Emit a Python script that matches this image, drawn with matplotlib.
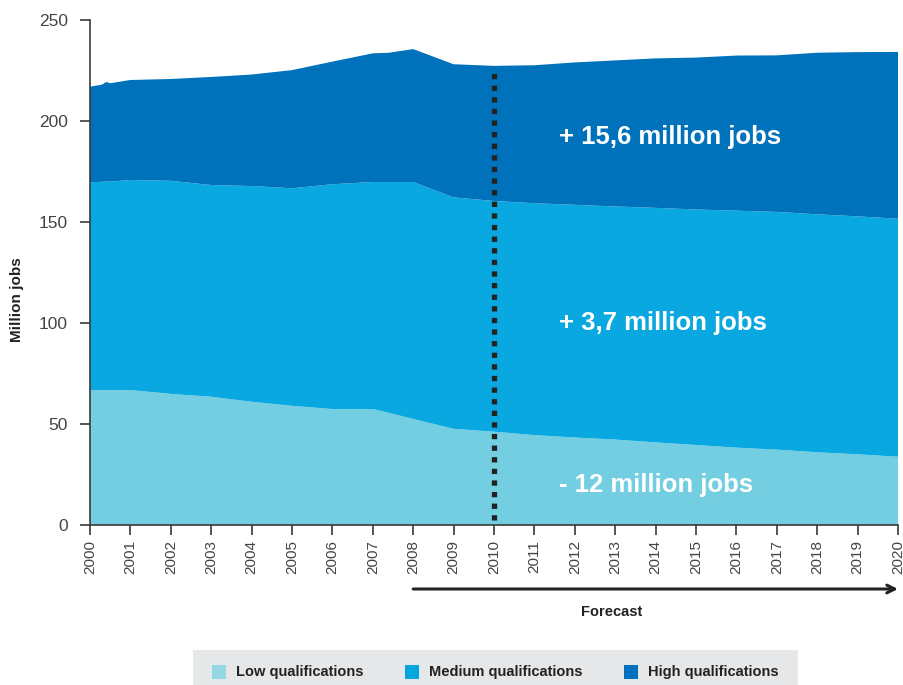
import matplotlib
matplotlib.use("Agg")
import matplotlib.pyplot as plt
import matplotlib.transforms as mtransforms
from matplotlib.patches import Rectangle

# values (million jobs)
years = [2000, 2000.3, 2000.4, 2000.5, 2001, 2002, 2003, 2004, 2005, 2006, 2007, 2007.4,
         2008, 2009, 2010, 2011, 2012, 2013, 2014, 2015, 2016, 2017, 2018, 2019, 2020]
low = [66.8, 66.8, 66.8, 66.8, 66.8, 64.9, 63.5, 61.0, 59.0, 57.4, 57.4, 55.5,
       52.5, 47.6, 46.2, 44.5, 43.3, 42.3, 40.9, 39.6, 38.3, 37.3, 36.0, 35.0, 33.8]
medium = [102.9, 103.1, 103.2, 103.2, 104.0, 105.5, 104.8, 106.8, 107.7, 111.3, 112.4, 114.3,
          117.3, 114.6, 114.2, 114.8, 115.2, 115.4, 116.1, 116.6, 117.3, 117.7, 117.8, 117.8, 117.8]
high = [47.3, 48.1, 49.3, 48.7, 49.5, 50.4, 53.5, 55.2, 58.5, 60.7, 63.7, 64.0,
        65.8, 65.9, 66.9, 68.3, 70.5, 72.3, 74.0, 75.2, 76.8, 77.5, 80.0, 81.3, 82.6]

series_names = ["Low qualifications", "Medium qualifications", "High qualifications"]
colors = ["#72cee0", "#09a8e0", "#0072bb"]
legend_colors = ["#95d8e5", "#00a6dd", "#0072bb"]
tick_years = list(range(2000, 2021))
annotations = [("+ 15,6 million jobs", 192), ("+ 3,7 million jobs", 100), ("- 12 million jobs", 20)]

plt.rcParams["font.family"] = ["Liberation Sans", "DejaVu Sans"]

fig = plt.figure(figsize=(9.04, 6.85), dpi=100)
ax = fig.add_axes([90 / 904, 1 - 525 / 685, 808 / 904, 505 / 685])

ax.stackplot(years, low, medium, high, colors=colors, linewidth=0)

ax.set_xlim(2000, 2020)
ax.set_ylim(0, 250)
ax.set_yticks(range(0, 251, 50))
ax.set_xticks(tick_years)
ax.set_xticklabels([str(y) for y in tick_years], rotation=90, va="top")
for side in ["top", "right"]:
    ax.spines[side].set_visible(False)
for side in ["left", "bottom"]:
    ax.spines[side].set_color("#3a3a3a")
    ax.spines[side].set_linewidth(1.2)
ax.tick_params(axis="both", colors="#3a3a3a", length=7, width=1.2)
ax.tick_params(axis="y", labelsize=12.5, labelcolor="#444444", pad=9)
ax.tick_params(axis="x", labelsize=11, labelcolor="#444444", pad=4)

# forecast start line
ax.plot([2010, 2010], [2.5, 225], color="#222222", lw=3.8, linestyle=(0, (1, 1.2)),
        solid_capstyle="butt", dash_capstyle="butt")

for text, yv in annotations:
    ax.text(2011.6, yv, text, color="white", fontsize=18.5, fontweight="bold",
            ha="left", va="center")

fig.text(17 / 904, 1 - 300 / 685, "Million jobs", rotation=90, fontsize=11,
         fontweight="bold", ha="center", va="center", color="#222222")

# forecast arrow below the axis
trans = mtransforms.blended_transform_factory(ax.transData, fig.transFigure)
ax.annotate("", xy=(2020, 1 - 589 / 685), xytext=(2008, 1 - 589 / 685),
            xycoords=trans, textcoords=trans,
            arrowprops=dict(arrowstyle="->", color="#222222", lw=2.2,
                            shrinkA=0, shrinkB=0, mutation_scale=14),
            annotation_clip=False)
ax.text(2012.9, 1 - 612 / 685, "Forecast", transform=trans, ha="center", va="center",
        fontsize=10.5, fontweight="bold", color="#222222")

# legend box
fig.patches.append(Rectangle((193 / 904, 0), 605 / 904, 35 / 685, transform=fig.transFigure,
                             facecolor="#e6e7e9", edgecolor="none"))
sq_x = [212, 405, 624]
for name, col, x0 in zip(series_names, legend_colors, sq_x):
    fig.patches.append(Rectangle((x0 / 904, 1 - 679 / 685), 14 / 904, 14 / 685,
                                 transform=fig.transFigure, facecolor=col, edgecolor="none"))
    fig.text((x0 + 24) / 904, 1 - 672 / 685, name, fontsize=10.5, fontweight="bold",
             ha="left", va="center", color="#222222")

fig.savefig("out.png", dpi=100)
